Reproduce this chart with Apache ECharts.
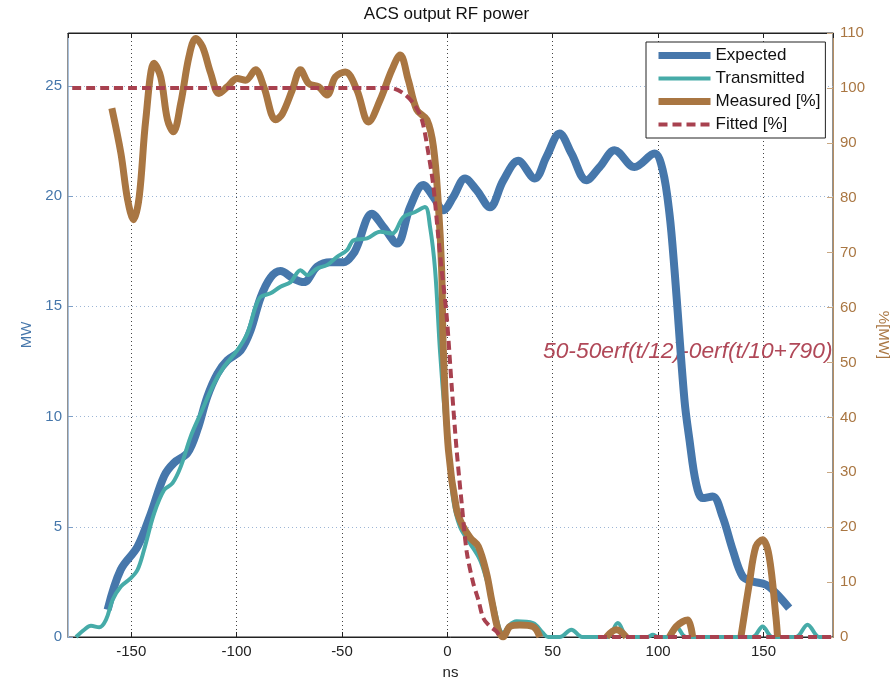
<!DOCTYPE html>
<html lang="en">
<head>
    <meta charset="UTF-8">
    <title>ACS output RF power</title>
    <script src="https://cdn.jsdelivr.net/npm/echarts@6/dist/echarts.min.js"></script>
    <style>
        html, body { margin: 0; padding: 0; background: #fff; }
        #chart { width: 893px; height: 681px; }
    </style>
</head>
<body>
    <div id="chart"></div>
    <script>
        // values (time in ns)
        var expectedT = [-161.2, -155, -147, -140.7, -134.4, -129.7, -123.3, -118.6, -113.9, -109.1, -104.4, -98.1, -93.4, -88.6, -83.9, -79.2, -72.9, -68.1, -61.8, -55.5, -49.2, -44.5, -42.9, -35.8, -30.3, -23.9, -17.7, -11.4, -6.6, -1.9, 2.8, 8.4, 13.9, 20.2, 26.5, 33.6, 41.5, 47, 53.3, 58.9, 66, 72.3, 79.4, 88.8, 98.3, 102.2, 105.4, 107.8, 112.5, 114.9, 118, 121.2, 125.9, 130.6, 135.4, 140.1, 144.8, 151.2, 155.9, 162.2];
        var expectedMW = [1.24, 3.05, 4.1, 5.6, 7.3, 7.9, 8.35, 9.4, 10.9, 11.95, 12.55, 13.0, 13.9, 15.4, 16.3, 16.6, 16.25, 16.1, 16.8, 17.0, 17.0, 17.4, 17.7, 19.2, 18.6, 17.85, 19.5, 20.5, 19.96, 19.36, 19.96, 20.8, 20.27, 19.5, 20.7, 21.6, 20.8, 21.78, 22.84, 21.93, 20.72, 21.32, 22.08, 21.32, 21.93, 21.17, 19.2, 16.64, 10.77, 8.94, 6.98, 6.3, 6.37, 5.46, 3.96, 2.75, 2.52, 2.37, 1.99, 1.31];

        var transmittedT = [-176.2, -172.3, -169.1, -165.2, -162, -158.8, -154.9, -150.2, -147, -143.9, -139.1, -134.4, -130.4, -126.5, -121.8, -117, -110.7, -106, -99.7, -94.9, -91, -88.6, -83.9, -79.2, -74.4, -69.7, -66.5, -61.8, -57.1, -52.3, -47.6, -44.5, -38.1, -31.9, -26.3, -20.8, -15.3, -10.6, -8.2, -5.8, -3.5, -1.1, 0.5, 2.8, 6, 10.7, 15.5, 18.6, 21.8, 24.9, 26.5, 29, 32.8, 40.7, 45.4, 47.8, 53.3, 58.9, 64, 76, 80.9, 85.7, 95, 97.5, 100, 104, 108.6, 113.3, 144.8, 149.6, 154.3, 165.4, 170.9, 176.4, 179.5];
        var transmittedMW = [0, 0.33, 0.51, 0.44, 0.78, 1.69, 2.29, 2.67, 3.05, 3.96, 5.62, 6.67, 6.98, 7.73, 9.09, 10.15, 11.5, 12.26, 13.0, 13.77, 14.98, 15.43, 15.59, 15.89, 16.1, 16.64, 16.42, 16.72, 16.87, 17.25, 17.55, 18.0, 18.08, 18.38, 18.3, 19.06, 19.28, 19.51, 18.6, 16.64, 13.0, 10.0, 8.5, 6.22, 5.0, 4.26, 3.5, 2.6, 1.54, 0.33, 0.18, 0.5, 0.71, 0.63, 0.18, 0, 0, 0.33, 0, 0, 0.63, 0, 0, 0.1, 0, 0, 0.48, 0, 0, 0.48, 0, 0, 0.56, 0, 0];

        var measuredT = [-159.2, -154.9, -151.7, -148.9, -146.2, -143.1, -139.1, -136, -132.8, -130, -126.5, -122.6, -119.4, -116.2, -112.3, -108.4, -104.4, -99.7, -95.7, -91, -87.1, -81.5, -78.4, -73.6, -69.7, -65.8, -61.1, -57.1, -53.1, -48.4, -42.9, -37.4, -31.9, -26.3, -22.4, -18.5, -14.5, -9.7, -6.6, -4.3, -2.7, -1.9, 0.5, 4.4, 7.5, 11, 14.7, 18.6, 21, 24.1, 26.5, 29.7, 34.4, 40.7, 43.9, 60, 75.5, 80.2, 84.9, 95, 105.4, 108.6, 111.7, 114.1, 116.4, 130, 139.3, 143.3, 146.4, 149.6, 152.7, 155.9, 156.7];
        var measuredPct = [96.3, 88.1, 79.6, 76.0, 80.2, 94.2, 104.5, 102.0, 94.2, 92.0, 97.2, 105.7, 109.0, 107.5, 102.7, 99.0, 100.2, 101.7, 101.4, 103.3, 100.2, 94.2, 95.2, 99.6, 103.3, 100.8, 100.2, 98.7, 102.0, 102.9, 99.6, 93.8, 97.8, 103.3, 106.0, 101.4, 96.0, 94.2, 89.3, 79.0, 66.9, 52.3, 34.1, 23.2, 20.1, 18, 16.5, 11.6, 6.8, 1.3, 0, 1.9, 2.2, 1.9, 0, null, 0, 1.3, 0, null, 0, 1.9, 2.8, 3.1, 0, null, 0, 9.8, 16.5, 17.7, 14.7, 3.7, 0];

        var fittedT = [-178, -30, -25.6, -20.8, -16.1, -12.1, -9, -6.6, -4.3, -2.7, -0.3, 2.1, 4.4, 6.8, 9.2, 12.3, 14.7, 17, 20, 23.4, 25, 50, 71.5, 183];
        var fittedPct = [100, 100, 99.9, 99.0, 97.2, 94.2, 88.1, 82.0, 72.9, 66.9, 58.4, 45.5, 34.1, 24.4, 15.5, 9.8, 6.8, 3.5, 2.0, 1.0, 0, null, 0, 0];

        var seriesNames = ['Expected', 'Transmitted', 'Measured [%]', 'Fitted [%]'];
        var fitNote = '50-50erf(t/12)-0erf(t/10+790)';

        function pairs(xs, ys) {
            return xs.map(function (x, i) {
                return [x, ys[i] === null ? '-' : ys[i]];
            });
        }

        var FONT = '"Liberation Sans", Arial, sans-serif';
        var BLUE = '#4677ab';
        var TEAL = '#46aba8';
        var BROWN = '#a97642';
        var RED = '#a8414f';

        var chart = echarts.init(document.getElementById('chart'));

        var option = {
            animation: false,
            textStyle: { fontFamily: FONT },
            title: {
                text: 'ACS output RF power',
                left: 'center',
                top: 1,
                textStyle: { fontSize: 17, fontWeight: 'normal', color: '#111', fontFamily: FONT }
            },
            grid: {
                left: 68, right: 60, top: 33, bottom: 44,
                outerBoundsMode: 'none',
                show: true, borderColor: '#222', borderWidth: 1
            },
            legend: {
                orient: 'vertical',
                left: 646, top: 42,
                backgroundColor: '#fff',
                borderColor: '#222', borderWidth: 1, borderRadius: 0,
                padding: [5, 5, 5, 9],
                itemGap: 6,
                itemWidth: 52, itemHeight: 14,
                itemStyle: { opacity: 0 },
                textStyle: { fontSize: 17, color: '#111', fontFamily: FONT },
                data: [
                    { name: seriesNames[0], lineStyle: { width: 7 } },
                    { name: seriesNames[1], lineStyle: { width: 4 } },
                    { name: seriesNames[2], lineStyle: { width: 7 } },
                    { name: seriesNames[3], lineStyle: { width: 4, type: [9, 5] } }
                ]
            },
            xAxis: [{
                type: 'value',
                min: -180, max: 183,
                splitNumber: 7,
                name: 'ns', nameLocation: 'middle', nameGap: 28,
                nameTextStyle: { fontSize: 15, color: '#222', fontFamily: FONT },
                axisLine: { onZero: false, lineStyle: { color: '#222' } },
                axisTick: { inside: true, length: 5, lineStyle: { color: '#222' } },
                axisLabel: { fontSize: 15, color: '#222', margin: 7, showMinLabel: false, showMaxLabel: false },
                splitLine: { show: true, lineStyle: { color: '#444', type: [1, 3] } }
            }, {
                type: 'value',
                position: 'top',
                min: -180, max: 183,
                splitNumber: 7,
                axisLine: { onZero: false, lineStyle: { color: '#222' } },
                axisTick: { inside: true, length: 5, lineStyle: { color: '#222' } },
                axisLabel: { show: false },
                splitLine: { show: false }
            }],
            yAxis: [{
                type: 'value',
                min: 0, max: 27.4, interval: 5,
                name: 'MW', nameLocation: 'middle', nameGap: 34,
                nameTextStyle: { fontSize: 15, color: BLUE, fontFamily: FONT },
                axisLine: { show: true, onZero: false, lineStyle: { color: '#a8c0dc' } },
                axisTick: { show: true, inside: true, length: 5, lineStyle: { color: '#7d9fc8' } },
                axisLabel: { fontSize: 15, color: BLUE, margin: 6, showMaxLabel: false },
                splitLine: { show: true, lineStyle: { color: '#9db6d6', type: [1, 3] } }
            }, {
                type: 'value',
                position: 'right',
                min: 0, max: 110, interval: 10,
                name: '%[MW]', nameLocation: 'middle', nameGap: 40, nameRotate: -90,
                nameTextStyle: { fontSize: 15, color: BROWN, fontFamily: FONT },
                axisLine: { show: true, onZero: false, lineStyle: { color: '#b58e62' } },
                axisTick: { show: true, inside: true, length: 6, lineStyle: { color: '#c9a883' } },
                axisLabel: { fontSize: 15, color: BROWN, margin: 7 },
                splitLine: { show: false }
            }],
            graphic: [{
                type: 'text',
                left: 543, top: 340,
                z: 1,
                style: {
                    text: fitNote,
                    fill: '#b04858',
                    font: 'italic 22.8px ' + FONT
                }
            }],
            series: [{
                name: seriesNames[0],
                type: 'line',
                yAxisIndex: 0,
                data: pairs(expectedT, expectedMW),
                symbol: 'none', smooth: 0.35,
                lineStyle: { color: BLUE, width: 8 },
                itemStyle: { color: BLUE },
                z: 3
            }, {
                name: seriesNames[1],
                type: 'line',
                yAxisIndex: 0,
                data: pairs(transmittedT, transmittedMW),
                symbol: 'none', smooth: 0.35,
                lineStyle: { color: TEAL, width: 4 },
                itemStyle: { color: TEAL },
                z: 4
            }, {
                name: seriesNames[2],
                type: 'line',
                yAxisIndex: 1,
                data: pairs(measuredT, measuredPct),
                symbol: 'none', smooth: 0.35,
                lineStyle: { color: BROWN, width: 7 },
                itemStyle: { color: BROWN },
                z: 5
            }, {
                name: seriesNames[3],
                type: 'line',
                yAxisIndex: 1,
                data: pairs(fittedT, fittedPct),
                symbol: 'none', smooth: 0.3,
                lineStyle: { color: RED, width: 4, type: [9, 5] },
                itemStyle: { color: RED },
                z: 6
            }]
        };

        chart.setOption(option);
    </script>
</body>
</html>
